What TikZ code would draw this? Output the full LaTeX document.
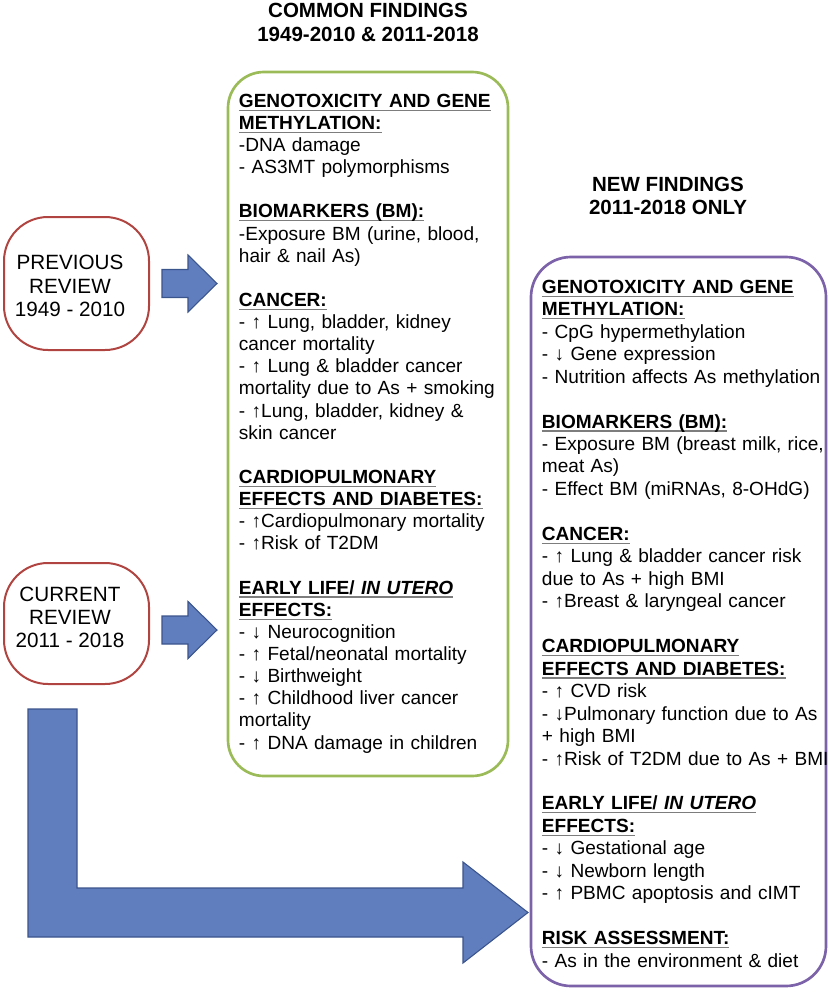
\documentclass[tikz,border=0pt]{standalone}
\usepackage{fontspec}
\setmainfont{Liberation Sans}
\usetikzlibrary{calc,positioning}
\definecolor{revred}{RGB}{176,68,64}
\definecolor{comgreen}{RGB}{155,187,89}
\definecolor{newpurple}{RGB}{124,98,168}
\definecolor{arrfill}{RGB}{96,125,190}
\definecolor{arredge}{RGB}{58,84,140}
\definecolor{ulgray}{RGB}{125,125,125}
\newcommand{\hd}[1]{\leavevmode\setbox0=\hbox{\bfseries #1}\rlap{\textcolor{ulgray}{\rule[-2.6pt]{\wd0}{0.9pt}}}\box0}

\begin{document}
\begin{tikzpicture}[x=0.75pt,y=-0.75pt,
	revbox/.style={draw=revred,line width=1.5pt,rounded corners=33pt,minimum width=108.75pt},
	revtext/.style={align=center,inner sep=0pt,font=\fontsize{15.5}{17.5}\selectfont},
	findbox/.style={line width=2pt,rounded corners=27pt},
	findtext/.style={anchor=north west,inner sep=0pt,text width=250pt,align=left},
	headtext/.style={anchor=north,align=center,inner sep=0pt,font=\bfseries\fontsize{15.4}{17.6}\selectfont},
	blockarrow/.style={fill=arrfill,draw=arredge,line width=0.8pt,line join=miter}]
	\useasboundingbox (0,0) rectangle (830,992);
	\node[headtext] (comhead) at (368,3) {COMMON FINDINGS\\1949-2010 \& 2011-2018};
	\node[headtext] (newhead) at (668,176.5) {NEW FINDINGS\\2011-2018 ONLY};
	\node[revbox,minimum height=99.75pt] (prevbox) at (76.5,283.5) {};
	\node[revbox,minimum height=90.75pt] (curbox) at (76.5,623.5) {};
	\node[revtext] (prevtxt) at (70,286) {PREVIOUS\\REVIEW\\1949 - 2010};
	\node[revtext] (curtxt) at (70,617.5) {CURRENT\\REVIEW\\2011 - 2018};
	\node[findbox,draw=comgreen,minimum width=210pt,minimum height=528pt] (combox) at (368,424) {};
	\node[findbox,draw=newpurple,rounded corners=30pt,minimum width=221.25pt,minimum height=546.75pt] (newbox) at (678.5,621.5) {};
	\node[findtext,font=\fontsize{14.3}{16.6}\selectfont] (comtxt) at ([xshift=9pt,yshift=-17.25pt]combox.north west) {%
		\hd{GENOTOXICITY AND GENE}\\
		\hd{METHYLATION:}\\
		-DNA damage\\
		- AS3MT polymorphisms\\[\baselineskip]
		\hd{BIOMARKERS (BM):}\\
		-Exposure BM (urine, blood,\\
		hair \& nail As)\\[\baselineskip]
		\hd{CANCER:}\\
		- ↑ Lung, bladder, kidney\\
		cancer mortality\\
		- ↑ Lung \& bladder cancer\\
		mortality due to As + smoking\\
		- ↑Lung, bladder, kidney \&\\
		skin cancer\\[\baselineskip]
		\hd{CARDIOPULMONARY}\\
		\hd{EFFECTS AND DIABETES:}\\
		- ↑Cardiopulmonary mortality\\
		- ↑Risk of T2DM\\[\baselineskip]
		\hd{EARLY LIFE/ \textit{IN UTERO}}\\
		\hd{EFFECTS:}\\
		- ↓ Neurocognition\\
		- ↑ Fetal/neonatal mortality\\
		- ↓ Birthweight\\
		- ↑ Childhood liver cancer\\
		mortality\\
		- ↑ DNA damage in children};
	\node[findtext,font=\fontsize{14.3}{16.85}\selectfont] (newtxt) at ([xshift=9pt,yshift=-18pt]newbox.north west) {%
		\hd{GENOTOXICITY AND GENE}\\
		\hd{METHYLATION:}\\
		- CpG hypermethylation\\
		- ↓ Gene expression\\
		- Nutrition affects As methylation\\[\baselineskip]
		\hd{BIOMARKERS (BM):}\\
		- Exposure BM (breast milk, rice,\\
		meat As)\\
		- Effect BM (miRNAs, 8-OHdG)\\[\baselineskip]
		\hd{CANCER:}\\
		- ↑ Lung \& bladder cancer risk\\
		due to As + high BMI\\
		- ↑Breast \& laryngeal cancer\\[\baselineskip]
		\hd{CARDIOPULMONARY}\\
		\hd{EFFECTS AND DIABETES:}\\
		- ↑ CVD risk\\
		- ↓Pulmonary function due to As\\
		+ high BMI\\
		- ↑Risk of T2DM due to As + BMI\\[\baselineskip]
		\hd{EARLY LIFE/ \textit{IN UTERO}}\\
		\hd{EFFECTS:}\\
		- ↓ Gestational age\\
		- ↓ Newborn length\\
		- ↑ PBMC apoptosis and cIMT\\[\baselineskip]
		\hd{RISK ASSESSMENT:}\\
		- As in the environment \& diet};
	% block arrows
	\foreach \Y in {283.5,630}
	{\draw[blockarrow] (162,\Y-14) -- (188,\Y-14) -- (188,\Y-28.5) -- (217,\Y)
		-- (188,\Y+28.5) -- (188,\Y+14) -- (162,\Y+14) -- cycle;}
	\draw[blockarrow] (28,709) -- (77,709) -- (77,888) -- (463,888) -- (463,862)
		-- (528,912.5) -- (463,963) -- (463,937) -- (28,937) -- cycle;
\end{tikzpicture}
\end{document}
